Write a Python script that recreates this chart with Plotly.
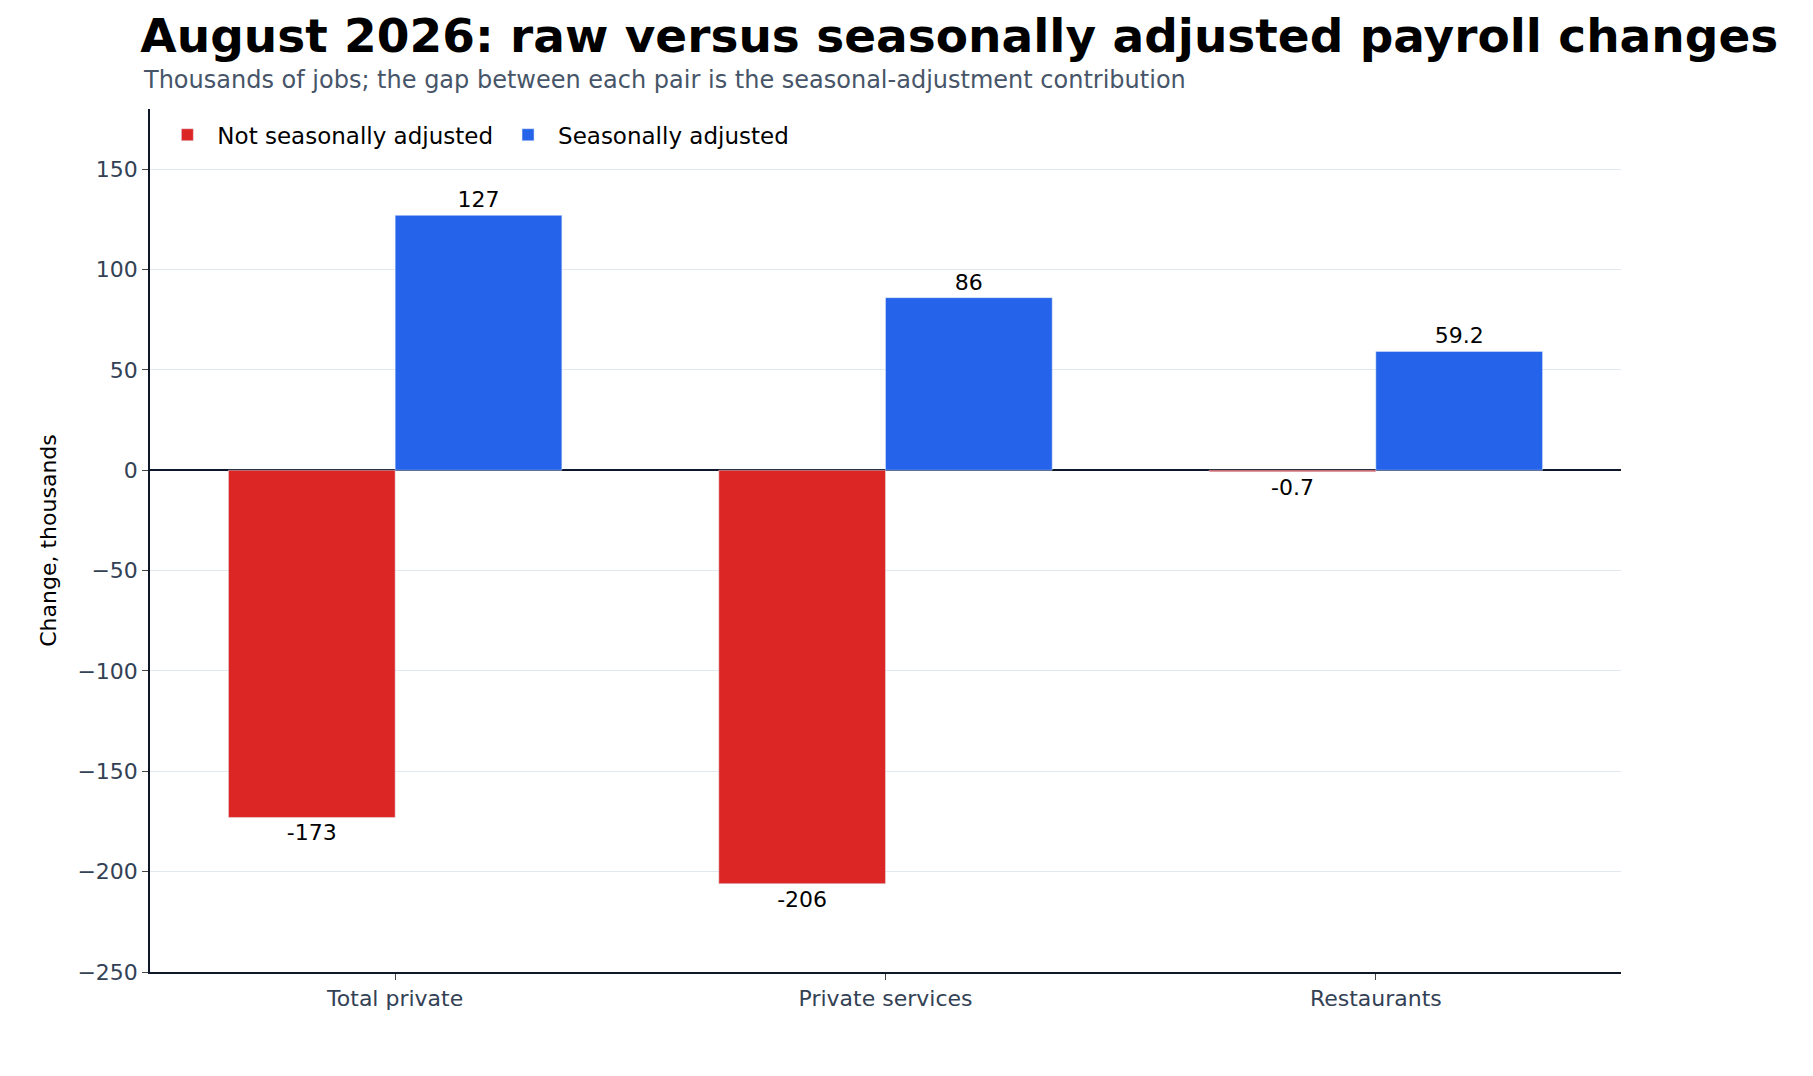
import plotly.graph_objects as go

categories = ["Total private", "Private services", "Restaurants"]
nsa = [-173, -206, -0.7]
sa = [127, 86, 59.2]
nsa_labels = ["-173", "-206", "-0.7"]
sa_labels = ["127", "86", "59.2"]

font = "DejaVu Sans"
fig = go.Figure()
fig.add_trace(go.Bar(x=categories, y=nsa, name="Not seasonally adjusted", marker_color="#dc2626",
                     text=nsa_labels, textposition="outside", textfont=dict(size=22, color="black"),
                     cliponaxis=False))
fig.add_trace(go.Bar(x=categories, y=sa, name="Seasonally adjusted", marker_color="#2563eb",
                     text=sa_labels, textposition="outside", textfont=dict(size=22, color="black"),
                     cliponaxis=False))

fig.update_layout(
    width=1813, height=1076, barmode="group", bargap=0.32, bargroupgap=0,
    font=dict(family=font, size=22, color="#334155"),
    plot_bgcolor="white", paper_bgcolor="white",
    margin=dict(l=142, r=200, t=101, b=112),
    title=dict(text="<b>August 2026: raw versus seasonally adjusted payroll changes</b>",
               x=0.073, xanchor="left", y=0.99, yanchor="top",
               font=dict(size=47, color="black")),
    legend=dict(orientation="h", x=0.005, y=0.995, xanchor="left", yanchor="top",
                font=dict(size=23, color="black"), bgcolor="rgba(0,0,0,0)",
                itemwidth=50, tracegroupgap=40),
    showlegend=True,
)
fig.add_annotation(text="Thousands of jobs; the gap between each pair is the seasonal-adjustment contribution",
                   xref="paper", yref="paper", x=-0.006, y=1.015, xanchor="left", yanchor="bottom",
                   showarrow=False, font=dict(size=24, color="#475569"))
fig.add_annotation(text="Source: BLS CES series accessed through FRED; RainbowStats calculations. Current-vintage data.",
                   xref="paper", yref="paper", x=-0.085, y=-0.115, xanchor="left", yanchor="top",
                   showarrow=False, font=dict(size=19, color="#475569"))
fig.update_yaxes(range=[-250, 180], tickvals=[-250, -200, -150, -100, -50, 0, 50, 100, 150],
                 ticktext=["\u2212250", "\u2212200", "\u2212150", "\u2212100", "\u221250", "0", "50", "100", "150"],
                 showgrid=True, gridcolor="#e2e8f0", zeroline=True, zerolinecolor="#0f172a", zerolinewidth=2,
                 showline=True, linecolor="#0f172a", linewidth=1.5, ticks="outside", ticklen=6,
                 title=dict(text="Change, thousands", font=dict(size=22, color="black")))
fig.update_xaxes(showline=True, linecolor="#0f172a", linewidth=1.5, ticks="outside", ticklen=6,
                 tickfont=dict(size=22))
fig.write_html("out.html")
